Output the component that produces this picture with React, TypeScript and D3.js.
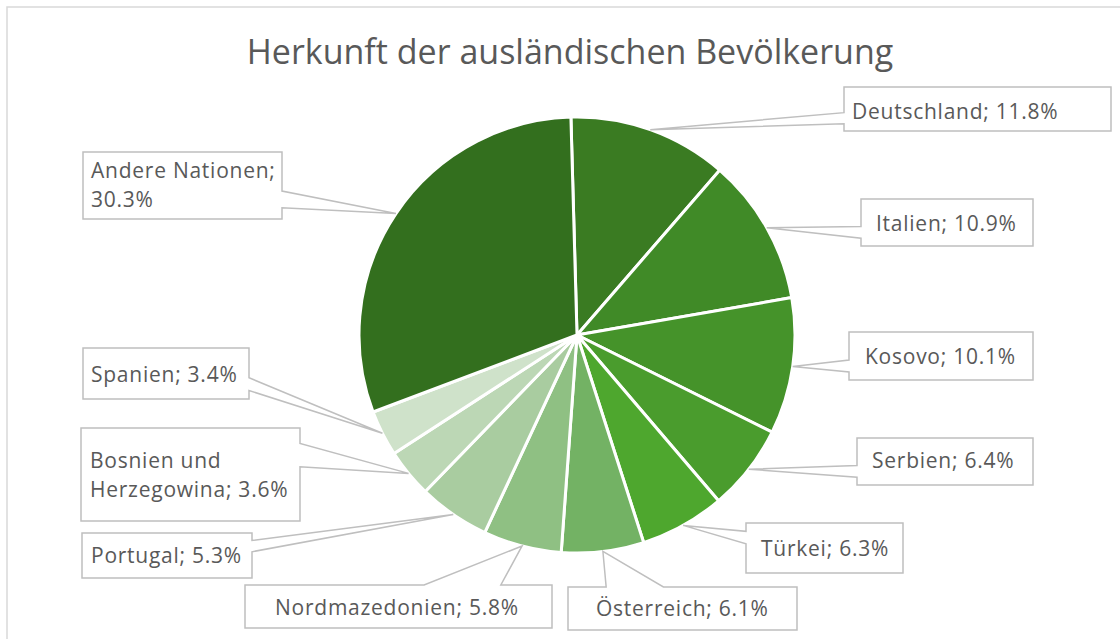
import React from "react";
import * as d3 from "d3";

const categories = [
  "Deutschland",
  "Italien",
  "Kosovo",
  "Serbien",
  "Türkei",
  "Österreich",
  "Nordmazedonien",
  "Portugal",
  "Bosnien und Herzegowina",
  "Spanien",
  "Andere Nationen",
];
const values = [11.8, 10.9, 10.1, 6.4, 6.3, 6.1, 5.8, 5.3, 3.6, 3.4, 30.3];
const title = "Herkunft der ausländischen Bevölkerung";

const colors = [
  "#3a7b22",
  "#408a27",
  "#45932a",
  "#4a9c2d",
  "#4ea72e",
  "#73b264",
  "#8fc083",
  "#a9cca0",
  "#bcd7b5",
  "#cfe2ca",
  "#336f1e",
];

// label callout layout (x, y, w, h, text x, first baseline, break after word index)
const boxes = [
  { x: 844, y: 87, w: 267, h: 44, tx: 852, ty: 119, brk: -1 },
  { x: 861, y: 199, w: 172, h: 47, tx: 876, ty: 231, brk: -1 },
  { x: 849, y: 332, w: 184, h: 48, tx: 865, ty: 364, brk: -1 },
  { x: 857, y: 438, w: 176, h: 47, tx: 872, ty: 468, brk: -1 },
  { x: 746, y: 523, w: 157, h: 50, tx: 761, ty: 556, brk: -1 },
  { x: 568, y: 587, w: 229, h: 43, tx: 596, ty: 616, brk: -1 },
  { x: 245, y: 585, w: 307, h: 43, tx: 275, ty: 615, brk: -1 },
  { x: 82, y: 533, w: 170, h: 45, tx: 91, ty: 563, brk: -1 },
  { x: 81, y: 428, w: 219, h: 93, tx: 90, ty: 468, brk: 1 },
  { x: 83, y: 348, w: 166, h: 51, tx: 91, ty: 382, brk: -1 },
  { x: 83, y: 152, w: 199, h: 67, tx: 91, ty: 178, brk: 1 },
];

const W = 1120;
const H = 639;
const cx = 577;
const cy = 335;
const R = 218;
const startOffset = -0.028;
const textColor = "#595959";
const font = "'Open Sans', 'Noto Sans', sans-serif";

function calloutPath(bx: number, by: number, w: number, h: number, ax: number, ay: number) {
  const hc = bx + w / 2;
  const vc = by + h / 2;
  const dxPos = ax - hc;
  const dyPos = ay - vc;
  const dx = dxPos * h;
  const dy = dyPos * w;
  const x1 = bx + (w * (dxPos > 0 ? 7 : 2)) / 12;
  const x2 = bx + (w * (dxPos > 0 ? 10 : 5)) / 12;
  const y1 = by + (h * (dyPos > 0 ? 7 : 2)) / 12;
  const y2 = by + (h * (dyPos > 0 ? 10 : 5)) / 12;
  const r = bx + w;
  const b = by + h;
  if (Math.abs(dx) > Math.abs(dy)) {
    if (dxPos < 0) {
      return `M${bx},${by}H${r}V${b}H${bx}V${y2}L${ax},${ay}L${bx},${y1}Z`;
    }
    return `M${bx},${by}H${r}V${y1}L${ax},${ay}L${r},${y2}V${b}H${bx}Z`;
  }
  if (dyPos < 0) {
    return `M${bx},${by}H${x1}L${ax},${ay}L${x2},${by}H${r}V${b}H${bx}Z`;
  }
  return `M${bx},${by}H${r}V${b}H${x2}L${ax},${ay}L${x1},${b}H${bx}Z`;
}

export default function App() {
  const data = categories.map((c, i) => ({ name: c, value: values[i], i }));
  const pie = d3
    .pie<any>()
    .sort(null)
    .value((d: any) => d.value)
    .startAngle(startOffset)
    .endAngle(startOffset + Math.PI * 2);
  const arcs = pie(data);
  const arc = d3.arc<any>().innerRadius(0).outerRadius(R);

  return (
    <svg
      width={W}
      height={H}
      style={{ position: "absolute", left: 0, top: 0, background: "#fff" }}
      fontFamily={font}
    >
      <rect x={7} y={7} width={W + 20} height={H + 20} fill="#fff" stroke="#d9d9d9" strokeWidth={1.5} />
      <text x={570} y={64} textAnchor="middle" fontSize={34} fill={textColor}>
        {title}
      </text>
      <g transform={`translate(${cx},${cy})`}>
        {arcs.map((a, i) => (
          <path key={i} d={arc(a) || ""} fill={colors[i]} stroke="#fff" strokeWidth={3} strokeLinejoin="round" />
        ))}
      </g>
      {arcs.map((a, i) => {
        const mid = (a.startAngle + a.endAngle) / 2;
        const ax = cx + R * Math.sin(mid);
        const ay = cy - R * Math.cos(mid);
        const b = boxes[i];
        const label = `${categories[i]}; ${values[i].toFixed(1)}%`;
        const words = label.split(" ");
        const lines =
          b.brk >= 0
            ? [words.slice(0, b.brk + 1).join(" "), words.slice(b.brk + 1).join(" ")]
            : [label];
        return (
          <g key={"l" + i}>
            <path
              d={calloutPath(b.x, b.y, b.w, b.h, ax, ay)}
              fill="#fff"
              stroke="#bfbfbf"
              strokeWidth={1.5}
            />
            {lines.map((ln, k) => (
              <text
                key={k}
                x={b.tx}
                y={b.ty + k * 29}
                fontSize={21}
                fill={textColor}
                style={{ letterSpacing: "0.75px" }}
              >
                {ln}
              </text>
            ))}
          </g>
        );
      })}
    </svg>
  );
}
